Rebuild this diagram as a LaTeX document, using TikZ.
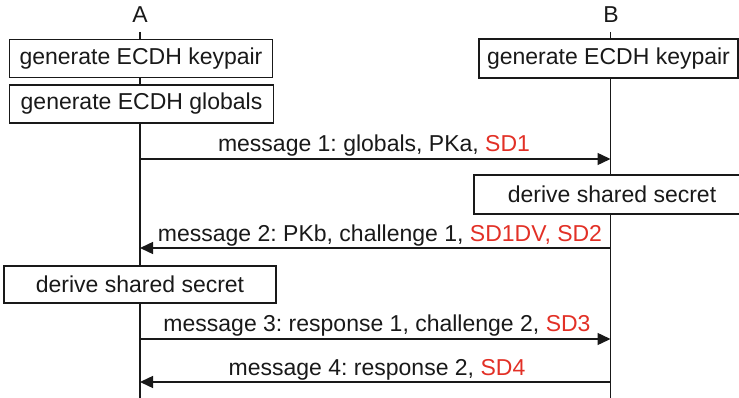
\documentclass[tikz,border=0pt]{standalone}
\usepackage{fontspec}
\setmainfont{Liberation Sans}
\frenchspacing
\usetikzlibrary{arrows.meta}
\definecolor{ink}{RGB}{25,25,25}
\definecolor{hl}{RGB}{226,48,38}
\tikzset{
  lbl/.style={font=\fontsize{23}{27}\selectfont, text=ink, inner sep=0pt},
  actbox/.style={draw=ink, line width=1.4pt, fill=white, inner sep=0pt,
                 font=\fontsize{23}{27}\selectfont, text=ink},
  life/.style={draw=ink, line width=1.4pt},
  msg/.style={draw=ink, line width=1.4pt, -{Triangle[length=13pt,width=12pt]}},
  msglbl/.style={font=\fontsize{23}{27}\selectfont, text=ink, anchor=base, inner sep=0pt}
}
\begin{document}
\begin{tikzpicture}[x=1pt,y=-1pt]
\useasboundingbox (0,0) rectangle (739,398);
% participants
\node[lbl] (A) at (140,15) {A};
\node[lbl] (B) at (611,15) {B};
\coordinate (Atop) at (140,32);
\coordinate (Abot) at (140,398);
\coordinate (Btop) at (610.5,32);
\coordinate (Bbot) at (610.5,398);
\draw[life] (Atop) -- (Abot);
\draw[life] (Btop) -- (Bbot);
% activity boxes
\node[actbox, minimum width=263pt, minimum height=38pt] (kpA) at (141,58.5) {generate ECDH keypair};
\node[actbox, minimum width=264pt, minimum height=38pt] (glA) at (141.5,104) {generate ECDH globals};
\node[actbox, minimum width=259pt, minimum height=39pt] (kpB) at (608.5,58.5) {generate ECDH keypair};
\node[actbox, minimum width=276pt, minimum height=39pt] (dsB) at (612,194.5) {derive shared secret};
\node[actbox, minimum width=272pt, minimum height=37pt] (dsA) at (140,284.5) {derive shared secret};
% message end points on the lifelines
\coordinate (m1a) at (140,159);   \coordinate (m1b) at (610.5,159);
\coordinate (m2a) at (140,248);   \coordinate (m2b) at (610.5,248);
\coordinate (m3a) at (140,339);   \coordinate (m3b) at (610.5,339);
\coordinate (m4a) at (140,382);   \coordinate (m4b) at (610.5,382);
\draw[msg] (m1a) -- (m1b);
\draw[msg] (m2b) -- (m2a);
\draw[msg] (m3a) -- (m3b);
\draw[msg] (m4b) -- (m4a);
% message labels
\node[msglbl] (l1) at (374,152) {message 1: globals, PKa, \textcolor{hl}{SD1}};
\node[msglbl] (l2) at (380,242) {message 2: PKb, challenge 1, \textcolor{hl}{SD1DV, SD2}};
\node[msglbl] (l3) at (377,331) {message 3: response 1, challenge 2, \textcolor{hl}{SD3}};
\node[msglbl] (l4) at (377,375) {message 4: response 2, \textcolor{hl}{SD4}};
\end{tikzpicture}
\end{document}
